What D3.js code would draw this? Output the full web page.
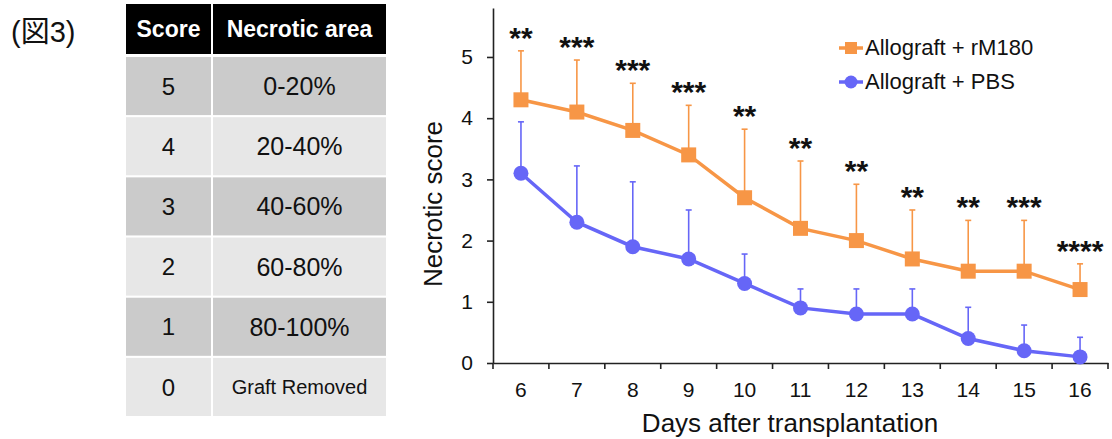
<!DOCTYPE html>
<html>
<head>
<meta charset="utf-8">
<script src="https://cdn.jsdelivr.net/npm/d3@7"></script>
<style>
  body { margin: 0; background: #fff; }
  svg { display: block; font-family: "Liberation Sans", Arial, "Noto Sans CJK JP", sans-serif; }
  .axis path, .axis line { stroke: #222; stroke-width: 1.6; }
  .axis text { font-size: 21px; fill: #111; font-family: "Liberation Sans", Arial, sans-serif; }
</style>
</head>
<body>
<div id="fig"></div>
<script>
// table
var tableHeader = ['Score', 'Necrotic area'];
var scores = [5, 4, 3, 2, 1, 0];
var areas = ['0-20%', '20-40%', '40-60%', '60-80%', '80-100%', 'Graft Removed'];

// chart
var days = [6, 7, 8, 9, 10, 11, 12, 13, 14, 15, 16];
var rM180Mean = [4.3, 4.1, 3.8, 3.4, 2.7, 2.2, 2.0, 1.7, 1.5, 1.5, 1.2];
var rM180Upper = [5.1, 4.95, 4.57, 4.21, 3.82, 3.3, 2.92, 2.5, 2.33, 2.33, 1.62];
var pbsMean = [3.1, 2.3, 1.9, 1.7, 1.3, 0.9, 0.8, 0.8, 0.4, 0.2, 0.1];
var pbsUpper = [3.94, 3.22, 2.96, 2.5, 1.78, 1.21, 1.21, 1.21, 0.91, 0.62, 0.42];
var stars = ['**', '***', '***', '***', '**', '**', '**', '**', '**', '***', '****'];
var yTicks = [0, 1, 2, 3, 4, 5];
var seriesNames = ['Allograft + rM180', 'Allograft + PBS'];

var W = 1112, H = 439;
var orange = '#F79646', blue = '#6666F7';

var svg = d3.select('#fig').append('svg')
    .attr('width', W)
    .attr('height', H);

svg.append('text')
    .attr('x', 11)
    .attr('y', 42)
    .style('font-size', '29px')
    .style('fill', '#111')
    .text('(図3)');

/* ---------- score table ---------- */
var col1 = {x: 126, w: 85}, col2 = {x: 213, w: 173};

var header = svg.append('g');
header.append('rect').attr('x', col1.x).attr('y', 4).attr('width', col1.w).attr('height', 50).style('fill', '#000');
header.append('rect').attr('x', col2.x).attr('y', 4).attr('width', col2.w).attr('height', 50).style('fill', '#000');
header.selectAll('text')
    .data(tableHeader)
  .enter().append('text')
    .attr('x', function(d, i) { return i == 0 ? col1.x + col1.w/2 : col2.x + col2.w/2; })
    .attr('y', 29)
    .attr('dy', '0.36em')
    .style('text-anchor', 'middle')
    .style('font-size', '23px')
    .style('font-weight', 'bold')
    .style('fill', '#fff')
    .text(function(d) { return d; });

var rowY = d3.scaleBand()
    .domain(scores)
    .range([57, 416])
    .paddingInner(0.035);

var row = svg.selectAll('.trow')
    .data(scores)
  .enter().append('g')
    .attr('class', 'trow')
    .attr('transform', function(d) { return 'translate(0,' + rowY(d) + ')'; });

row.append('rect')
    .attr('x', col1.x).attr('width', col1.w)
    .attr('height', rowY.bandwidth())
    .style('fill', function(d, i) { return i % 2 == 0 ? '#CBCBCB' : '#E7E7E7'; });
row.append('rect')
    .attr('x', col2.x).attr('width', col2.w)
    .attr('height', rowY.bandwidth())
    .style('fill', function(d, i) { return i % 2 == 0 ? '#CBCBCB' : '#E7E7E7'; });

row.append('text')
    .attr('x', col1.x + col1.w/2)
    .attr('y', rowY.bandwidth()/2)
    .attr('dy', '0.36em')
    .style('text-anchor', 'middle')
    .style('font-size', '24px')
    .style('fill', '#111')
    .text(function(d) { return d; });

row.append('text')
    .attr('x', col2.x + col2.w/2)
    .attr('y', rowY.bandwidth()/2)
    .attr('dy', '0.36em')
    .style('text-anchor', 'middle')
    .style('font-size', function(d, i) { return areas[i].length > 8 ? '20px' : '25px'; })
    .style('fill', '#111')
    .text(function(d, i) { return areas[i]; });

/* ---------- line chart ---------- */
var x = d3.scaleBand()
    .domain(days)
    .range([493, 1108])
    .padding(0);

var y = d3.scaleLinear()
    .domain([0, 5.8])
    .range([363, 8]);

var cx = function(d) { return x(d) + x.bandwidth()/2; };

svg.append('g')
    .attr('class', 'y axis')
    .attr('transform', 'translate(493,0)')
    .call(d3.axisLeft(y).tickValues(yTicks).tickFormat(d3.format('d'))
      .tickSize(6).tickSizeOuter(0).tickPadding(14));

var xAxis = svg.append('g')
    .attr('class', 'x axis')
    .attr('transform', 'translate(0,363)')
    .call(d3.axisBottom(x).tickSize(0).tickPadding(19));

// category ticks sit between the days
xAxis.selectAll('.cat-tick')
    .data(days.concat(['end']))
  .enter().append('line')
    .attr('class', 'cat-tick')
    .attr('x1', function(d) { return d == 'end' ? x.range()[1] : x(d); })
    .attr('x2', function(d) { return d == 'end' ? x.range()[1] : x(d); })
    .attr('y1', 0)
    .attr('y2', 6);

svg.append('text')
    .attr('transform', 'translate(442,204) rotate(-90)')
    .style('text-anchor', 'middle')
    .style('font-size', '26px')
    .style('fill', '#111')
    .text('Necrotic score');

svg.append('text')
    .attr('x', 790)
    .attr('y', 432)
    .style('text-anchor', 'middle')
    .style('font-size', '26px')
    .style('fill', '#111')
    .text('Days after transplantation');

var series = [
  {name: seriesNames[0], mean: rM180Mean, upper: rM180Upper, color: orange, shape: 'square'},
  {name: seriesNames[1], mean: pbsMean, upper: pbsUpper, color: blue, shape: 'circle'}
];

var line = d3.line()
    .x(function(d) { return cx(d.day); })
    .y(function(d) { return y(d.v); });

// draw PBS first so rM180 sits on top
series.slice().reverse().forEach(function(s) {
  var pts = days.map(function(day, i) { return {day: day, v: s.mean[i], up: s.upper[i]}; });
  var g = svg.append('g');

  g.selectAll('.err')
      .data(pts)
    .enter().append('line')
      .attr('x1', function(d) { return cx(d.day); })
      .attr('x2', function(d) { return cx(d.day); })
      .attr('y1', function(d) { return y(d.v); })
      .attr('y2', function(d) { return y(d.up); })
      .style('stroke', s.color)
      .style('stroke-width', 1.6);

  g.selectAll('.cap')
      .data(pts)
    .enter().append('line')
      .attr('x1', function(d) { return cx(d.day) - 3; })
      .attr('x2', function(d) { return cx(d.day) + 3; })
      .attr('y1', function(d) { return y(d.up); })
      .attr('y2', function(d) { return y(d.up); })
      .style('stroke', s.color)
      .style('stroke-width', 1.6);

  g.append('path')
      .datum(pts)
      .attr('d', line)
      .style('fill', 'none')
      .style('stroke', s.color)
      .style('stroke-width', 3.5);

  if (s.shape == 'square') {
    g.selectAll('.mk')
        .data(pts)
      .enter().append('rect')
        .attr('x', function(d) { return cx(d.day) - 7.5; })
        .attr('y', function(d) { return y(d.v) - 7.5; })
        .attr('width', 15)
        .attr('height', 15)
        .style('fill', s.color);
  } else {
    g.selectAll('.mk')
        .data(pts)
      .enter().append('circle')
        .attr('cx', function(d) { return cx(d.day); })
        .attr('cy', function(d) { return y(d.v); })
        .attr('r', 7.5)
        .style('fill', s.color);
  }
});

// significance marks above the rM180 error bars
svg.selectAll('.star')
    .data(days)
  .enter().append('text')
    .attr('class', 'star')
    .attr('x', function(d) { return cx(d); })
    .attr('y', function(d, i) { return y(rM180Upper[i]) - 3; })
    .style('text-anchor', 'middle')
    .style('font-size', '30px')
    .style('font-weight', 'bold')
    .style('fill', '#111')
    .text(function(d, i) { return stars[i]; });

/* ---------- legend ---------- */
var legend = svg.selectAll('.legend')
    .data(series)
  .enter().append('g')
    .attr('class', 'legend')
    .attr('transform', function(d, i) { return 'translate(839,' + (48 + i*34) + ')'; });

legend.append('line')
    .attr('x1', 0).attr('x2', 24)
    .style('stroke', function(d) { return d.color; })
    .style('stroke-width', 3.5);

legend.each(function(d) {
  var g = d3.select(this);
  if (d.shape == 'square') {
    g.append('rect').attr('x', 6).attr('y', -6).attr('width', 12).attr('height', 12).style('fill', d.color);
  } else {
    g.append('circle').attr('cx', 12).attr('r', 6.5).style('fill', d.color);
  }
});

legend.append('text')
    .attr('x', 26)
    .attr('y', 7)
    .style('font-size', '22px')
    .style('fill', '#111')
    .text(function(d) { return d.name; });
</script>
</body>
</html>
